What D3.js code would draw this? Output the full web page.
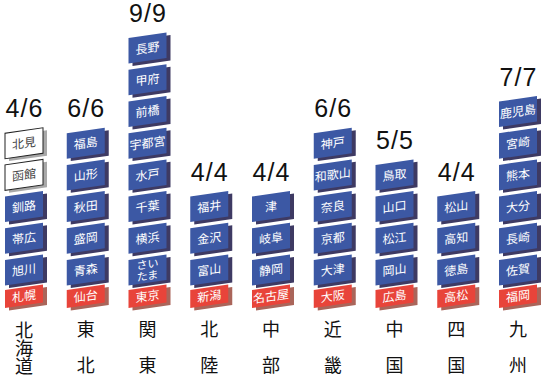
<!DOCTYPE html>
<html><head><meta charset="utf-8">
<script src="https://cdn.jsdelivr.net/npm/d3@7"></script>
<style>body{margin:0;background:#fff}svg{display:block}</style>
</head><body>
<script>
const regions = ["北海道","東北","関東","北陸","中部","近畿","中国","四国","九州"];
const capitals = ["札幌","仙台","東京","新潟","名古屋","大阪","広島","高松","福岡"];
const cities = [
  ["旭川","帯広","釧路","函館","北見"],
  ["青森","盛岡","秋田","山形","福島"],
  ["さいたま","横浜","千葉","水戸","宇都宮","前橋","甲府","長野"],
  ["富山","金沢","福井"],
  ["静岡","岐阜","津"],
  ["大津","京都","奈良","和歌山","神戸"],
  ["岡山","松江","山口","鳥取"],
  ["徳島","高知","松山"],
  ["佐賀","長崎","大分","熊本","宮崎","鹿児島"]
];
const done = [4,6,9,4,4,6,5,4,7];
const total = [6,6,9,4,4,6,5,4,7];

const W = 544, H = 381;
const svg = d3.select("body").append("svg").attr("width", W).attr("height", H);

const x = d3.scalePoint().domain(regions).range([24, 518]);
const y = d3.scaleLinear().domain([0, 8]).range([260, 6.4]);
const boxW = 38, blueH = 25.5, redH = 18, redTop = 290;
const skew = -8.2, off = [4, 3];

const col = {
  blue: {fill: "#3c58a4", shadow: "#3e3a63", text: "#fff"},
  red: {fill: "#e8443a", shadow: "#aa655a", text: "#fff"},
  white: {fill: "#fff", shadow: "#a8a8a8", text: "#444"}
};

function drawBox(g, x0, y0, h, label, kind) {
  const c = col[kind];
  const b = g.append("g").attr("transform", `translate(${x0},${y0}) skewY(${skew})`);
  b.append("rect").attr("x", off[0]).attr("y", off[1]).attr("width", boxW).attr("height", h).attr("fill", c.shadow);
  b.append("rect").attr("x", 0).attr("y", 0).attr("width", boxW).attr("height", h)
    .attr("fill", c.fill)
    .attr("stroke", kind === "white" ? "#222" : "none").attr("stroke-width", kind === "white" ? 1 : 0);
  const lines = label === "さいたま" ? ["さい", "たま"] : [label];
  const fs = lines.length > 1 ? 11 : 12;
  const t = b.append("text").attr("fill", c.text)
    .attr("font-family", "'Noto Sans CJK JP', sans-serif").attr("font-size", fs)
    .attr("text-anchor", "middle");
  lines.forEach((s, i) => {
    t.append("tspan").attr("x", boxW / 2)
      .attr("y", h / 2 + (i - (lines.length - 1) / 2) * 11.5)
      .attr("dy", "0.36em").text(s);
  });
}

regions.forEach((r, ri) => {
  const g = svg.append("g");
  const cx = x(r), x0 = cx - boxW / 2;
  const list = cities[ri];
  drawBox(g, x0, redTop, redH, capitals[ri], "red");
  list.forEach((c, i) => {
    drawBox(g, x0, y(i), blueH, c, i < done[ri] - 1 ? "blue" : "white");
  });
  const topY = list.length ? y(list.length - 1) : redTop;
  g.append("text").attr("x", cx + 0.5).attr("y", topY - 16)
    .attr("text-anchor", "middle")
    .attr("font-family", "'Liberation Sans', Arial, sans-serif").attr("font-size", 25)
    .attr("letter-spacing", 1)
    .attr("fill", "#111")
    .text(done[ri] + "/" + total[ri]);
  const chars = Array.from(r);
  if (chars.length === 3) {
    g.append("text")
      .attr("x", cx).attr("y", 321)
      .style("writing-mode", "vertical-rl")
      .attr("font-family", "'Noto Sans CJK JP', sans-serif").attr("font-weight", 400)
      .attr("font-size", 18).attr("fill", "#111").text(r);
  } else {
    chars.forEach((ch, i) => {
      g.append("text").attr("x", cx).attr("y", i === 0 ? 330 : 366).attr("dy", "0.36em")
        .attr("text-anchor", "middle")
        .attr("font-family", "'Noto Sans CJK JP', sans-serif").attr("font-weight", 400)
        .attr("font-size", 18).attr("fill", "#111").text(ch);
    });
  }
});
</script>
</body></html>
